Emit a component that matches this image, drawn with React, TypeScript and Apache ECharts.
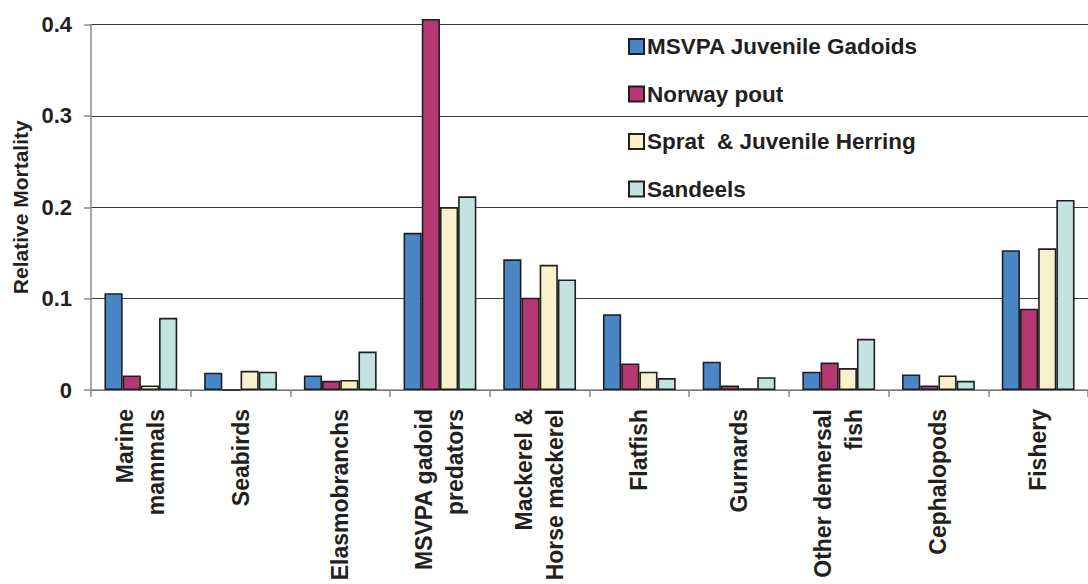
import React, { useEffect, useRef } from "react";
import * as echarts from "echarts";

// Predator groups along the x axis
const categories = [
  "Marine\nmammals",
  "Seabirds",
  "Elasmobranchs",
  "MSVPA gadoid\npredators",
  "Mackerel &\nHorse mackerel",
  "Flatfish",
  "Gurnards",
  "Other demersal\nfish",
  "Cephalopods",
  "Fishery",
];

// Relative mortality by prey group
const juvenileGadoids = [0.106, 0.019, 0.016, 0.172, 0.143, 0.083, 0.031, 0.02, 0.017, 0.153];
const norwayPout = [0.016, 0, 0.01, 0.406, 0.101, 0.029, 0.005, 0.03, 0.005, 0.089];
const spratHerring = [0.005, 0.021, 0.011, 0.2, 0.137, 0.02, 0.002, 0.024, 0.016, 0.155];
const sandeels = [0.079, 0.02, 0.042, 0.212, 0.121, 0.013, 0.014, 0.056, 0.01, 0.208];

const seriesNames = [
  "MSVPA Juvenile Gadoids",
  "Norway pout",
  "Sprat  & Juvenile Herring",
  "Sandeels",
];
const seriesColors = ["#4a86c6", "#b53872", "#f9f1cb", "#c2e3e0"];

const FONT = "'Liberation Sans', Arial, Helvetica, sans-serif";
const TEXT = "#231f20";

export default function App() {
  const ref = useRef<HTMLDivElement>(null);

  useEffect(() => {
    if (!ref.current) return;
    const chart = echarts.init(ref.current, undefined, { renderer: "svg" });
    const values = [juvenileGadoids, norwayPout, spratHerring, sandeels];

    chart.setOption({
      animation: false,
      backgroundColor: "#ffffff",
      textStyle: { fontFamily: FONT, color: TEXT },
      grid: { left: 91, top: 24.5, bottom: 194, right: -13, containLabel: false },
      legend: {
        orient: "vertical",
        left: 623,
        top: 30,
        itemWidth: 15,
        itemHeight: 15,
        itemGap: 24.5,
        icon: "rect",
        data: seriesNames,
        textStyle: {
          fontFamily: FONT,
          fontWeight: "bold",
          fontSize: 22.5,
          lineHeight: 22,
          color: TEXT,
          padding: [0, 0, 0, -2],
        },
      },
      xAxis: {
        type: "category",
        data: categories,
        axisLine: { show: true, lineStyle: { color: "#8a8a8a", width: 1.5 } },
        axisTick: { show: true, length: 7, lineStyle: { color: "#8a8a8a", width: 1.5 } },
        axisLabel: {
          rotate: 90,
          margin: 19,
          interval: 0,
          fontFamily: FONT,
          fontWeight: "bold",
          fontSize: 23,
          lineHeight: 31,
          color: TEXT,
        },
        splitLine: { show: false },
      },
      yAxis: {
        type: "value",
        min: 0,
        max: 0.4,
        interval: 0.1,
        name: "Relative Mortality",
        nameLocation: "middle",
        nameGap: 58,
        nameTextStyle: {
          fontFamily: FONT,
          fontWeight: "bold",
          fontSize: 21,
          color: TEXT,
        },
        axisLine: { show: true, lineStyle: { color: "#8a8a8a", width: 1.5 } },
        axisTick: { show: true, length: 7, lineStyle: { color: "#8a8a8a", width: 1.5 } },
        axisLabel: {
          margin: 19,
          fontFamily: FONT,
          fontWeight: "bold",
          fontSize: 22,
          color: TEXT,
          formatter: (v: number) => (v === 0 ? "0" : v.toFixed(1)),
        },
        splitLine: { show: true, lineStyle: { color: "#3a3a3a", width: 1 } },
      },
      series: seriesNames.map((name, i) => ({
        name,
        type: "bar",
        data: values[i],
        barCategoryGap: "27%",
        barGap: "0%",
        clip: false,
        itemStyle: {
          color: seriesColors[i],
          borderColor: "#1f1f1f",
          borderWidth: 1.6,
        },
      })),
    });

    return () => chart.dispose();
  }, []);

  return (
    <div
      ref={ref}
      style={{ position: "fixed", left: 0, top: 0, width: 1088, height: 584 }}
    />
  );
}
